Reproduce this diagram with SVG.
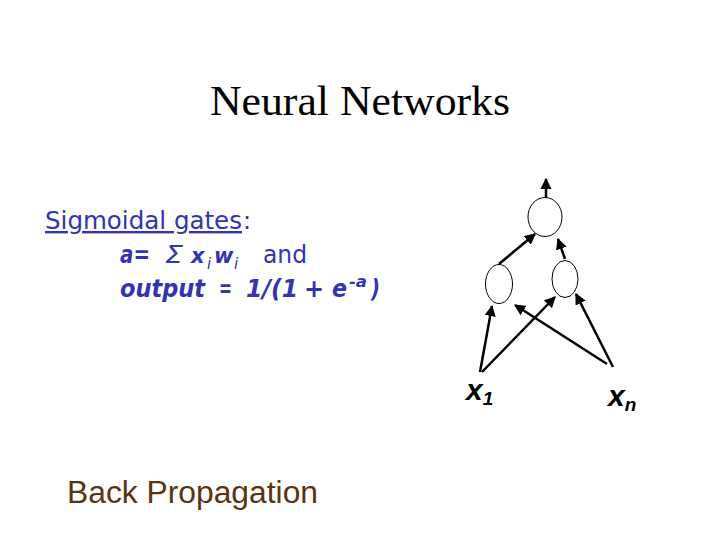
<svg xmlns="http://www.w3.org/2000/svg" width="720" height="540" viewBox="0 0 720 540">
<defs>
<marker id="ah" viewBox="0 0 10 10" refX="9" refY="5" markerWidth="4.5" markerHeight="4.5" orient="auto" markerUnits="strokeWidth">
<path d="M0,0 L10,5 L0,10 z" fill="#000"/>
</marker>
<style>
.node{fill:#fff;stroke:#000;stroke-width:1}
.edge{stroke:#000;stroke-width:2.5;fill:none;marker-end:url(#ah)}
.blue{fill:#3333b3;font-family:"DejaVu Sans",sans-serif;font-size:24px}
.bi{font-weight:bold;font-style:italic}
.it{font-style:italic}
.sm{font-size:15px}
.lbl{font-family:"Liberation Sans",Arial,sans-serif;font-weight:bold;font-style:italic;fill:#000}
</style>
</defs>
<rect width="720" height="540" fill="#fff"/>
<text x="360" y="115" text-anchor="middle" font-family="Liberation Serif,serif" font-size="43" fill="#000" textLength="300" lengthAdjust="spacingAndGlyphs">Neural Networks</text>
<g id="text-sigmoid">
<text class="blue" x="45" y="229" font-size="25" textLength="197" lengthAdjust="spacingAndGlyphs" text-decoration="underline">Sigmoidal gates</text>
<text class="blue" x="243" y="229" font-size="25">:</text>
<text class="blue bi" x="120" y="263" textLength="30" lengthAdjust="spacingAndGlyphs">a=</text>
<text class="blue it" x="165" y="263" textLength="18" lengthAdjust="spacingAndGlyphs">Σ</text>
<text class="blue" y="263"><tspan class="bi" x="191" font-size="21">x</tspan><tspan class="it sm" x="207" dy="6">i</tspan><tspan class="bi" x="214" dy="-6" font-size="21">w</tspan><tspan class="it sm" x="234" dy="6">i</tspan></text>
<text class="blue" x="263" y="263" textLength="44" lengthAdjust="spacingAndGlyphs">and</text>
<text class="blue bi" x="120" y="297" textLength="85" lengthAdjust="spacingAndGlyphs">output</text>
<text class="blue bi" x="219" y="297" textLength="13" lengthAdjust="spacingAndGlyphs">=</text>
<text class="blue bi" x="246" y="297" textLength="52" lengthAdjust="spacingAndGlyphs">1/(1</text>
<text class="blue bi" x="304" y="297" font-size="19">+</text>
<text class="blue bi" x="332" y="297" textLength="15" lengthAdjust="spacingAndGlyphs">e</text>
<text class="blue bi sm" x="349" y="287" textLength="18" lengthAdjust="spacingAndGlyphs">-a</text>
<text class="blue bi" x="371" y="297" textLength="9" lengthAdjust="spacingAndGlyphs">)</text>
</g>
<g id="connectors">
<line class="edge" x1="546" y1="198" x2="546" y2="179"/>
<line class="edge" x1="499" y1="264" x2="535" y2="234"/>
<line class="edge" x1="565" y1="259" x2="558" y2="239"/>
<line class="edge" x1="480" y1="372" x2="492" y2="306"/>
<line class="edge" x1="482" y1="372" x2="555" y2="297"/>
<line class="edge" x1="607" y1="364" x2="515" y2="305"/>
<line class="edge" x1="613" y1="367" x2="576" y2="294"/>
</g>
<g id="node-out"><ellipse class="node" cx="545" cy="217" rx="17" ry="19.5"/></g>
<g id="node-h1"><ellipse class="node" cx="499" cy="284" rx="13.5" ry="19.5"/></g>
<g id="node-h2"><ellipse class="node" cx="565" cy="279" rx="13" ry="18.5"/></g>
<g id="label-x1"><text class="lbl" x="466" y="400" font-size="30">x<tspan font-size="19" dy="5">1</tspan></text></g>
<g id="label-xn"><text class="lbl" x="608" y="406" font-size="30">x<tspan font-size="19" dy="5">n</tspan></text></g>
<text x="67" y="503" font-family="Liberation Sans,Arial,sans-serif" font-size="31" fill="#5c3311" textLength="251" lengthAdjust="spacingAndGlyphs">Back Propagation</text>
</svg>
